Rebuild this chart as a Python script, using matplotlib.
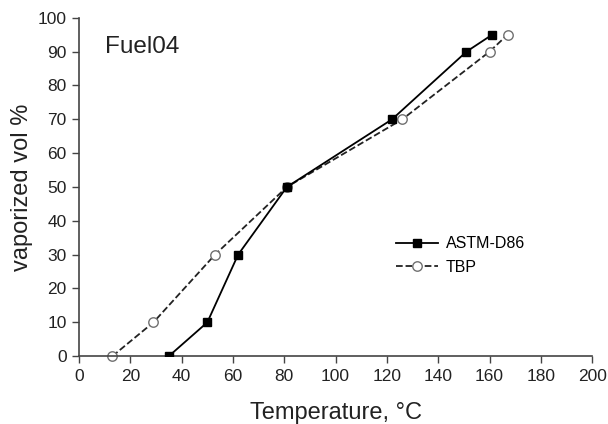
import matplotlib.pyplot as plt

plt.rcParams['font.family'] = ['Liberation Sans', 'DejaVu Sans']

# ASTM-D86 distillation curve
d86_temp = [35, 50, 62, 81, 122, 151, 161]
d86_vol = [0, 10, 30, 50, 70, 90, 95]

# true boiling point curve
tbp_temp = [13, 29, 53, 81, 126, 160, 167]
tbp_vol = [0, 10, 30, 50, 70, 90, 95]

fig = plt.figure(figsize=(6.08, 4.24), dpi=100)
ax = fig.add_axes([0.130, 0.160, 0.844, 0.798])

ax.plot(d86_temp, d86_vol, '-', color='black', lw=1.3, marker='s', ms=6,
        mfc='black', mec='black', label='ASTM-D86', zorder=3)
ax.plot(tbp_temp, tbp_vol, '--', color='#222222', lw=1.3, marker='o', ms=6.8,
        mfc='white', mec='#707070', mew=1.0, label='TBP', zorder=2, clip_on=False)

ax.set_xlim(0, 200)
ax.set_ylim(0, 100)
ax.set_xticks(range(0, 201, 20))
ax.set_yticks(range(0, 101, 10))
ax.spines['top'].set_visible(False)
ax.spines['right'].set_visible(False)
for s in ('left', 'bottom'):
    ax.spines[s].set_color('#444444')
    ax.spines[s].set_linewidth(1.2)
ax.tick_params(direction='out', length=5, width=1, colors='#444444',
               labelcolor='#222222', labelsize=12.5, pad=4)

ax.set_xlabel('Temperature, °C', fontsize=17, color='#222222', labelpad=13)
ax.set_ylabel('vaporized vol %', fontsize=17, color='#222222', labelpad=3)
ax.text(0.051, 0.895, 'Fuel04', transform=ax.transAxes, fontsize=17.5, color='#222222')

ax.legend(loc='center left', bbox_to_anchor=(0.59, 0.297), frameon=False,
          fontsize=11.5, handlelength=2.6, handletextpad=0.5, labelspacing=0.55)

fig.savefig('out.png', dpi=100)
